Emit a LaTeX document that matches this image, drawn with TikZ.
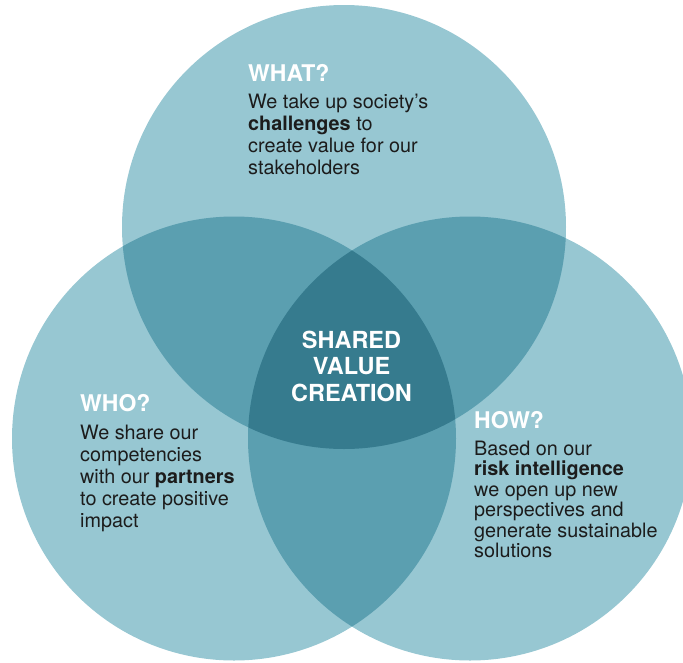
\documentclass[tikz,border=0pt]{standalone}
\usepackage{fontspec}
\setmainfont{TeX Gyre Heros}
\definecolor{vlight}{HTML}{97C7D2}
\definecolor{vmid}{HTML}{5B9FB0}
\definecolor{vdark}{HTML}{367B8E}
\definecolor{bodytxt}{HTML}{1C1C1C}
\begin{document}
\begin{tikzpicture}[x=1pt,y=-1pt,
  title/.style={anchor=base west, inner sep=0pt, text=white, font=\fontsize{23}{23}\selectfont\bfseries},
  body/.style={anchor=base west, inner sep=0pt, text=bodytxt, font=\fontsize{19.8}{22}\selectfont},
  center/.style={anchor=base, inner sep=0pt, text=white, font=\fontsize{23.5}{26.5}\selectfont\bfseries}]
\useasboundingbox (0,0) rectangle (683,662);
\clip (0,0) rectangle (683,662);
\def\cTop{(344,227) circle[radius=222pt]}
\def\cLeft{(234,438.5) circle[radius=222pt]}
\def\cRight{(470,438.5) circle[radius=222pt]}
% single circles
\fill[vlight] \cTop;
\fill[vlight] \cLeft;
\fill[vlight] \cRight;
% pairwise overlaps
\begin{scope}
  \clip \cTop;
  \fill[vmid] \cLeft;
  \fill[vmid] \cRight;
\end{scope}
\begin{scope}
  \clip \cLeft;
  \fill[vmid] \cRight;
\end{scope}
% triple overlap
\begin{scope}
  \clip \cTop;
  \clip \cLeft;
  \fill[vdark] \cRight;
\end{scope}
% texts
\node[title] (what) at (248,81) {WHAT?};
\node[body] (whatbody) at (248,108) {\begin{tabular}[t]{@{}l@{}}We take up society’s\\\textbf{challenges} to\\create value for our\\stakeholders\end{tabular}};
\node[title] (who) at (80,411) {WHO?};
\node[body] (whobody) at (80,439) {\begin{tabular}[t]{@{}l@{}}We share our\\competencies\\with our \textbf{partners}\\to create positive\\impact\end{tabular}};
\node[title] (how) at (474,428) {HOW?};
\node[body, font=\fontsize{19.8}{20.4}\selectfont] (howbody) at (474,455) {\begin{tabular}[t]{@{}l@{}}Based on our\\\textbf{risk intelligence}\\we open up new\\perspectives and\\generate sustainable\\solutions\end{tabular}};
\node[center] (svc) at (351.5,348) {\begin{tabular}[t]{@{}c@{}}SHARED\\VALUE\\CREATION\end{tabular}};
\end{tikzpicture}
\end{document}
